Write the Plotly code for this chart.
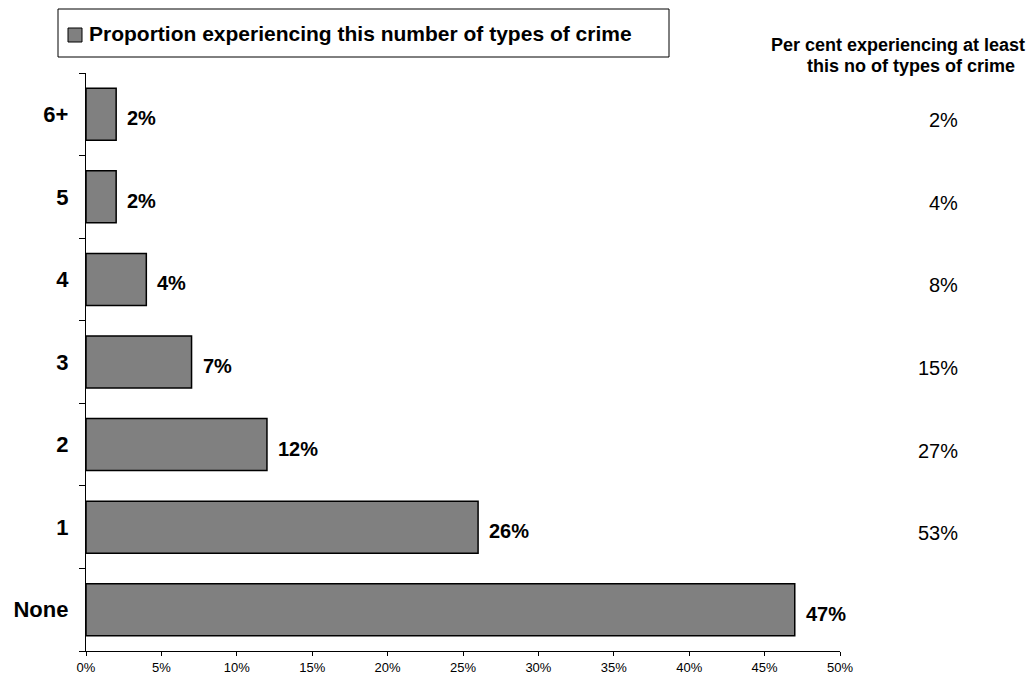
import plotly.graph_objects as go

categories = ["None", "1", "2", "3", "4", "5", "6+"]
proportion = [47, 26, 12, 7, 4, 2, 2]
at_least_cats = ["1", "2", "3", "4", "5", "6+"]
at_least = [53, 27, 15, 8, 4, 2]
x_ticks = [0, 5, 10, 15, 20, 25, 30, 35, 40, 45, 50]
x_tick_labels = [f"{v}%" for v in x_ticks]
legend_label = "Proportion experiencing this number of types of crime"

FONT = "Arial, Liberation Sans, sans-serif"
BAR_FILL = "#808080"

# plot area in pixels: x 86..840, y 73..651
L, R, T, B = 86, 189, 73, 26
W, H = 1029, 677
PW, PH = W - L - R, H - T - B


def px(p):
    return (p - L) / PW


def py(p):
    return (H - B - p) / PH


fig = go.Figure()
fig.add_trace(go.Bar(
    x=proportion, y=categories, orientation="h",
    name=legend_label,
    marker=dict(color=BAR_FILL, line=dict(color="black", width=1.5)),
    width=0.63, hoverinfo="skip", showlegend=False,
))

# data labels at bar ends
for c, v in zip(categories, proportion):
    fig.add_annotation(x=v, y=c, xref="x", yref="y", text=f"<b>{v}%</b>",
                       showarrow=False, xanchor="left", xshift=9, yshift=-4,
                       font=dict(family=FONT, size=20, color="black"))

# right-hand cumulative column
for c, v in zip(at_least_cats, at_least):
    fig.add_annotation(x=px(960), y=c, xref="paper", yref="y", text=f"{v}%",
                       showarrow=False, xanchor="right", yshift=-6,
                       font=dict(family=FONT, size=20, color="black"))

fig.add_annotation(x=px(1027), y=py(45), xref="paper", yref="paper",
                   text="<b>Per cent experiencing at least</b>", showarrow=False,
                   xanchor="right", yanchor="middle",
                   font=dict(family=FONT, size=18, color="black"))
fig.add_annotation(x=px(1017), y=py(66), xref="paper", yref="paper",
                   text="<b>this no of types of crime</b>", showarrow=False,
                   xanchor="right", yanchor="middle",
                   font=dict(family=FONT, size=18, color="black"))

# legend box (drawn)
fig.add_shape(type="rect", xref="paper", yref="paper",
              x0=px(58), x1=px(669), y0=py(57), y1=py(9),
              line=dict(color="black", width=1), fillcolor="white")
fig.add_shape(type="rect", xref="paper", yref="paper",
              x0=px(68), x1=px(82), y0=py(42), y1=py(28),
              line=dict(color="black", width=1), fillcolor=BAR_FILL)
fig.add_annotation(x=px(87), y=py(34), xref="paper", yref="paper",
                   text=f"<b>{legend_label}</b>", showarrow=False,
                   xanchor="left", yanchor="middle",
                   font=dict(family=FONT, size=21, color="black"))

fig.update_layout(
    width=W, height=H,
    margin=dict(l=L, r=R, t=T, b=B),
    paper_bgcolor="white", plot_bgcolor="white",
    font=dict(family=FONT, color="black"),
    showlegend=False,
    xaxis=dict(range=[0, 50], tickvals=x_ticks, ticktext=x_tick_labels,
               showline=True, linecolor="black", linewidth=1.3,
               ticks="outside", ticklen=4, tickcolor="black",
               showgrid=False, zeroline=False, automargin=False,
               ticklabelstandoff=0,
               tickfont=dict(family=FONT, size=13, color="black")),
    yaxis=dict(type="category", categoryorder="array", categoryarray=categories,
               range=[-0.5, 6.5], showline=True, linecolor="black", linewidth=1.3,
               ticks="outside", ticklen=6, tickcolor="black", tickson="boundaries",
               showgrid=False, zeroline=False, ticklabelstandoff=12, automargin=False,
               tickfont=dict(family=FONT, size=22, color="black"),
               tickprefix="<b>", ticksuffix="</b>"),
)

fig.write_html("out.html")
